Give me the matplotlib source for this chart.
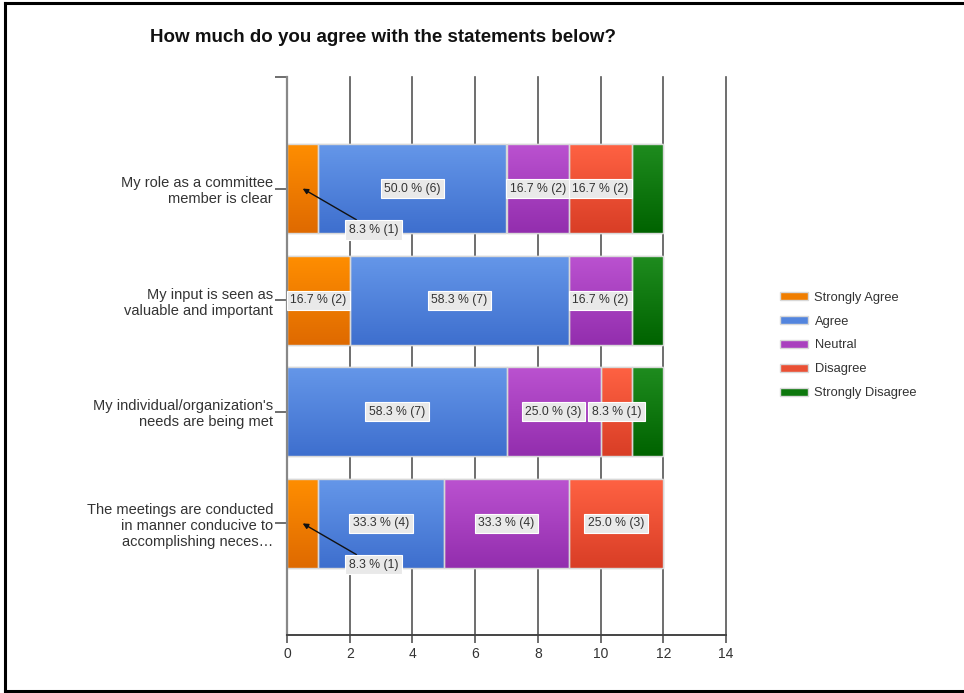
import matplotlib
matplotlib.use("Agg")
import matplotlib.pyplot as plt
from matplotlib.lines import Line2D
from matplotlib.patches import Patch
from matplotlib.colors import LinearSegmentedColormap
import numpy as np

plt.rcParams['font.family'] = ['Liberation Sans', 'DejaVu Sans']

categories = [
    "My role as a committee\nmember is clear",
    "My input is seen as\nvaluable and important",
    "My individual/organization's\nneeds are being met",
    "The meetings are conducted\nin manner conducive to\naccomplishing neces\u2026",
]
series_names = ["Strongly Agree", "Agree", "Neutral", "Disagree", "Strongly Disagree"]
strongly_agree = [1, 2, 0, 1]
agree = [6, 7, 7, 4]
neutral = [2, 2, 3, 4]
disagree = [2, 0, 1, 3]
strongly_disagree = [1, 1, 1, 0]
x_ticks = [0, 2, 4, 6, 8, 10, 12, 14]

colors = ["#F07E00", "#5385DE", "#A940BE", "#EA5034", "#0D780D"]
grad_top = ["#FF8E00", "#6597E9", "#BB52D0", "#FF6243", "#1F8C1F"]
grad_bot = ["#DF6A00", "#3E6FCE", "#932EAE", "#D93E26", "#006300"]
series = [strongly_agree, agree, neutral, disagree, strongly_disagree]

W, H = 964, 693
fig = plt.figure(figsize=(W / 100, H / 100), dpi=100)
ax = fig.add_axes([287 / W, 1 - 635 / H, (726 - 287) / W, (635 - 77) / H])

ypos = np.arange(len(categories))
totals = np.sum(np.array(series), axis=0)
left = np.zeros(len(categories))
bbox_style = dict(boxstyle="square,pad=0.3", fc="#E9E9E9", ec="#FFFFFF", lw=0.8)
grad = np.linspace(0, 1, 64).reshape(-1, 1)
for si, (name, vals, col) in enumerate(zip(series_names, series, colors)):
    vals = np.array(vals, dtype=float)
    bars = ax.barh(ypos, vals, left=left, height=0.8, color=col, edgecolor="#D8D8D8",
                   linewidth=1.0, zorder=2, label=name)
    cmap = LinearSegmentedColormap.from_list(f"g{si}", [grad_top[si], grad_bot[si]])
    for b in bars:
        if b.get_width() <= 0:
            continue
        x0, y0 = b.get_x(), b.get_y()
        w, h = b.get_width(), b.get_height()
        # y axis is inverted: y0 is the visual top of the bar
        im = ax.imshow(grad, cmap=cmap, aspect="auto", extent=(x0, x0 + w, y0 + h, y0),
                       origin="upper", zorder=2.1, interpolation="bilinear")
        im.set_clip_path(b)
        ax.add_patch(plt.Rectangle((x0, y0), w, h, fill=False, edgecolor="#D8D8D8",
                                   lw=1.0, zorder=2.2))
    for i, v in enumerate(vals):
        if v <= 0 or si == 4:
            continue
        pct = v / totals[i] * 100
        txt = f"{pct:.1f} % ({int(v)})"
        cx = left[i] + v / 2
        if si == 0 and v < 1.5:
            ax.annotate(txt, xy=(cx, ypos[i]), xytext=(left[i] + 1.98, ypos[i] + 0.37),
                        fontsize=8.8, color="#333333", va="center", ha="left",
                        bbox=bbox_style, zorder=5,
                        arrowprops=dict(arrowstyle="-|>", color="#111111", lw=1.0,
                                        mutation_scale=8, shrinkA=0, shrinkB=0))
        else:
            ax.text(cx, ypos[i], txt, fontsize=8.8, color="#333333", ha="center",
                    va="center", bbox=bbox_style, zorder=4)
    left = left + vals

ax.set_xlim(0, 14)
ax.set_ylim(4, -1)
ax.set_xticks(x_ticks)
ax.set_xticklabels([str(t) for t in x_ticks], fontsize=10, color="#333333")
ax.set_yticks(list(ypos) + [-1])
ax.set_yticklabels(categories + [""], fontsize=10.5, color="#333333")
ax.tick_params(axis="y", length=9, width=1.2, color="#555555", pad=1)
ax.tick_params(axis="x", length=6, width=1.2, color="#555555", pad=3)
for t in x_ticks[1:]:
    ax.axvline(t, color="#555555", lw=1.2, zorder=1, clip_on=False)
for s in ["top", "right"]:
    ax.spines[s].set_visible(False)
ax.spines["left"].set_color("#888888")
ax.spines["left"].set_linewidth(1.6)
ax.spines["bottom"].set_color("#444444")
ax.spines["bottom"].set_linewidth(1.4)

fig.text(150 / W, 1 - 38 / H, "How much do you agree with the statements below?",
         fontsize=13.5, fontweight="bold", color="#111111", ha="left", va="center")

handles = [Patch(facecolor=c, edgecolor="#D8D8D8", label=n) for n, c in zip(series_names, colors)]
leg = fig.legend(handles=handles, loc="upper left", bbox_to_anchor=(768 / W, 1 - 280 / H),
                 frameon=False, fontsize=9.3, handlelength=2.2, handleheight=0.6,
                 labelspacing=0.92, handletextpad=0.5)
for t in leg.get_texts():
    t.set_color("#333333")

# outer frame
fig.add_artist(Line2D([5 / W, 5 / W], [1 - 3 / H, 1 - 691 / H], transform=fig.transFigure, color="black", lw=2.2))
fig.add_artist(Line2D([5 / W, 1], [1 - 3 / H, 1 - 3 / H], transform=fig.transFigure, color="black", lw=2.2))
fig.add_artist(Line2D([5 / W, 1], [1 - 691 / H, 1 - 691 / H], transform=fig.transFigure, color="black", lw=2.2))

fig.savefig("out.png", dpi=100, facecolor="white")
